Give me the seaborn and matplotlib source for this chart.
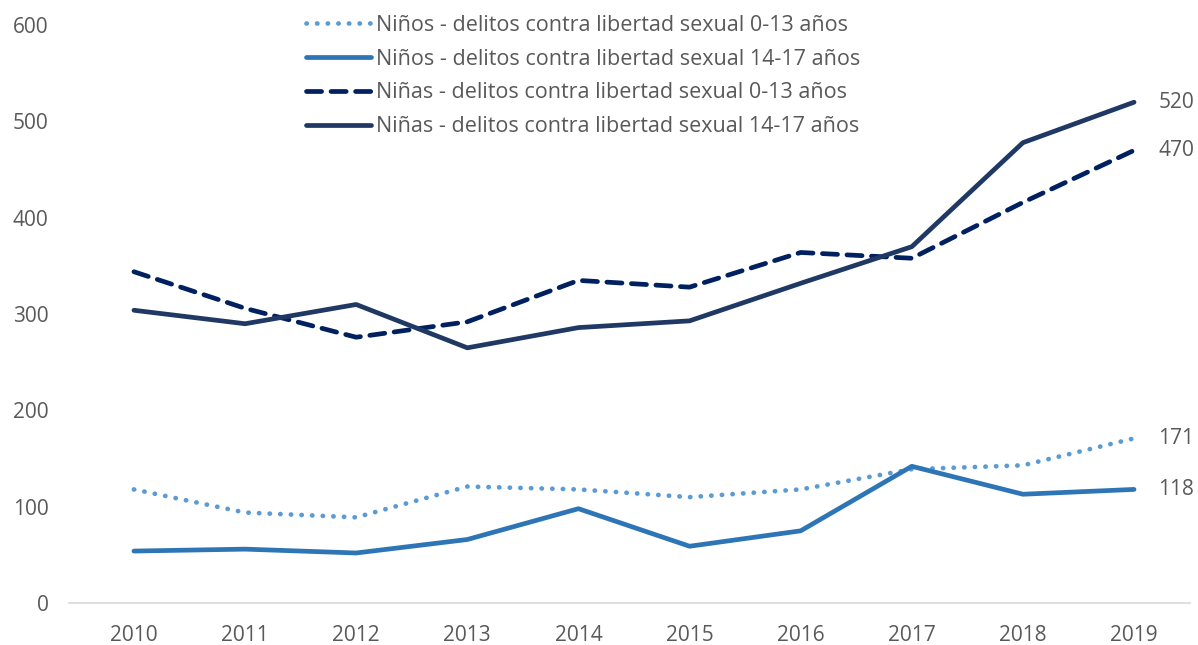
import pandas as pd
import numpy as np
import seaborn as sns
import matplotlib.pyplot as plt

# data
years = [2010, 2011, 2012, 2013, 2014, 2015, 2016, 2017, 2018, 2019]
ninos_0_13 = [118, 94, 89, 121, 118, 110, 118, 139, 143, 171]
ninos_14_17 = [54, 56, 52, 66, 98, 59, 75, 142, 113, 118]
ninas_0_13 = [344, 306, 276, 292, 335, 328, 364, 358, 416, 470]
ninas_14_17 = [304, 290, 310, 265, 286, 293, 332, 370, 478, 520]

labels = [
    "Niños - delitos contra libertad sexual 0-13 años",
    "Niños - delitos contra libertad sexual 14-17 años",
    "Niñas - delitos contra libertad sexual 0-13 años",
    "Niñas - delitos contra libertad sexual 14-17 años",
]
series = [ninos_0_13, ninos_14_17, ninas_0_13, ninas_14_17]
colors = ["#5B9BD5", "#2E75B6", "#002060", "#1F3864"]
styles = [(0, (0.05, 2.2)), "-", (0, (3.2, 2.0)), "-"]

sns.set_theme(style="white")
plt.rcParams["font.family"] = ["Open Sans", "DejaVu Sans"]
text_color = "#595959"

fig = plt.figure(figsize=(11.98, 6.45), dpi=100)
ax = fig.add_axes([0.058, 0.065, 0.935, 0.896])

for lab, vals, col, ls in zip(labels, series, colors, styles):
    df = pd.DataFrame({"year": years, "value": vals})
    sns.lineplot(data=df, x="year", y="value", ax=ax, color=col, linewidth=3.4,
                 linestyle=ls, label=lab, solid_capstyle="round",
                 dash_capstyle="round")
    ax.text(years[-1] + 0.22, vals[-1], str(vals[-1]), fontsize=15,
            color=text_color, va="center", ha="left")

ax.set_xlim(2009.42, 2019.5)
ax.set_ylim(0, 600)
ax.set_xticks(years)
ax.set_yticks(np.arange(0, 601, 100))
ax.set_xlabel("")
ax.set_ylabel("")
ax.tick_params(axis="both", labelsize=15, colors=text_color, length=0)
ax.tick_params(axis="y", pad=15)
ax.tick_params(axis="x", pad=16)

for side in ["top", "right", "left"]:
    ax.spines[side].set_visible(False)
ax.spines["bottom"].set_color("#D9D9D9")
ax.spines["bottom"].set_linewidth(1.2)

leg = ax.legend(loc="upper left", bbox_to_anchor=(0.196, 1.048), frameon=False,
                fontsize=15.5, handlelength=3.0, handletextpad=0.25,
                labelspacing=0.6, borderpad=0.3)
for t in leg.get_texts():
    t.set_color(text_color)

fig.savefig("out.png", dpi=100)
plt.close(fig)
